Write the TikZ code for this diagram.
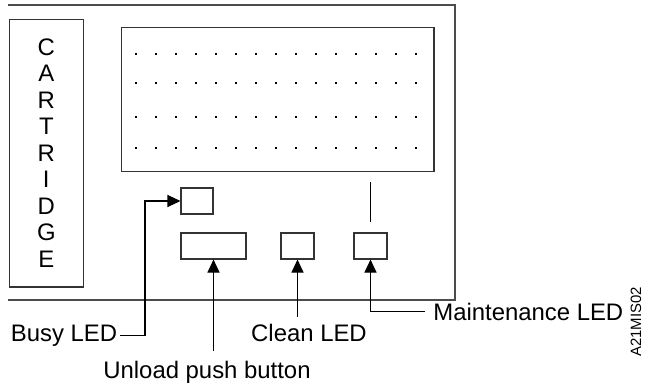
\documentclass[tikz,border=0pt]{standalone}
\usepackage{fontspec}
\setmainfont{Liberation Sans}
\usetikzlibrary{arrows.meta, positioning}

\begin{document}
\begin{tikzpicture}[x=0.02cm, y=-0.02cm,
  box/.style={draw=black!80, line width=0.6pt, minimum height=0.52cm, inner sep=0pt},
  lbl/.style={font=\fontsize{13.6}{15.08}\selectfont, inner sep=0.05cm},
  arrow/.style={-{Triangle[length=0.26cm, width=0.24cm]}, line width=0.6pt},
  conn/.style={line width=0.6pt}
]
\useasboundingbox (0,0) rectangle (666,383);
% outer frame, open on the left
\draw[draw=black!70, line width=0.6pt] (8,5) -- (455,5) -- (455,300) -- (8,300);

% cartridge slot and display
\node[box, minimum width=1.48cm, minimum height=5.36cm, align=center,
      font=\fontsize{13.6}{15.08}\selectfont] (cart) at (46.3,153) {C\\A\\R\\T\\R\\I\\D\\G\\E};
\node[box, minimum width=6.26cm, minimum height=2.88cm] (display) at (277.5,99.5) {};
\foreach \r in {54,83,117,148}
  \foreach \c in {0,...,14}
    \fill (134.7+20*\c,\r-1.3) rectangle ++(2.6,2.6);

% LEDs and button
\node[box, minimum width=0.64cm] (busy) at (197,201) {};
\node[box, minimum width=1.3cm] (unload) at (213.5,246) {};
\node[box, minimum width=0.66cm] (clean) at (297.5,246) {};
\node[box, minimum width=0.66cm] (maint) at (370.5,246) {};
\draw[conn, shorten <=0.2cm, shorten >=0.2cm] (display.south -| maint.north) -- (maint.north);

% callouts
\node[lbl, anchor=base east] (busytxt) at (120,341) {Busy LED};
\node[lbl, anchor=base] (unloadtxt) at (207,378) {Unload push button};
\node[lbl, anchor=base] (cleantxt) at (309,341) {Clean LED};
\node[lbl, anchor=base west, inner xsep=0.16cm] (mainttxt) at (425,320.5) {Maintenance LED};
\node[font=\fontsize{8.5}{10}\selectfont, rotate=90, inner sep=0pt] (figid) at (636,322) {A21MIS02};

\draw[arrow] (busytxt.east) -- ++(25,0) |- (busy.west);
\draw[arrow, shorten <=0.14cm] (unloadtxt.north -| unload.south) -- (unload.south);
\draw[arrow, shorten <=0.08cm] (cleantxt.north -| clean.south) -- (clean.south);
\draw[arrow] (mainttxt.west) -| (maint.south);
\end{tikzpicture}
\end{document}
